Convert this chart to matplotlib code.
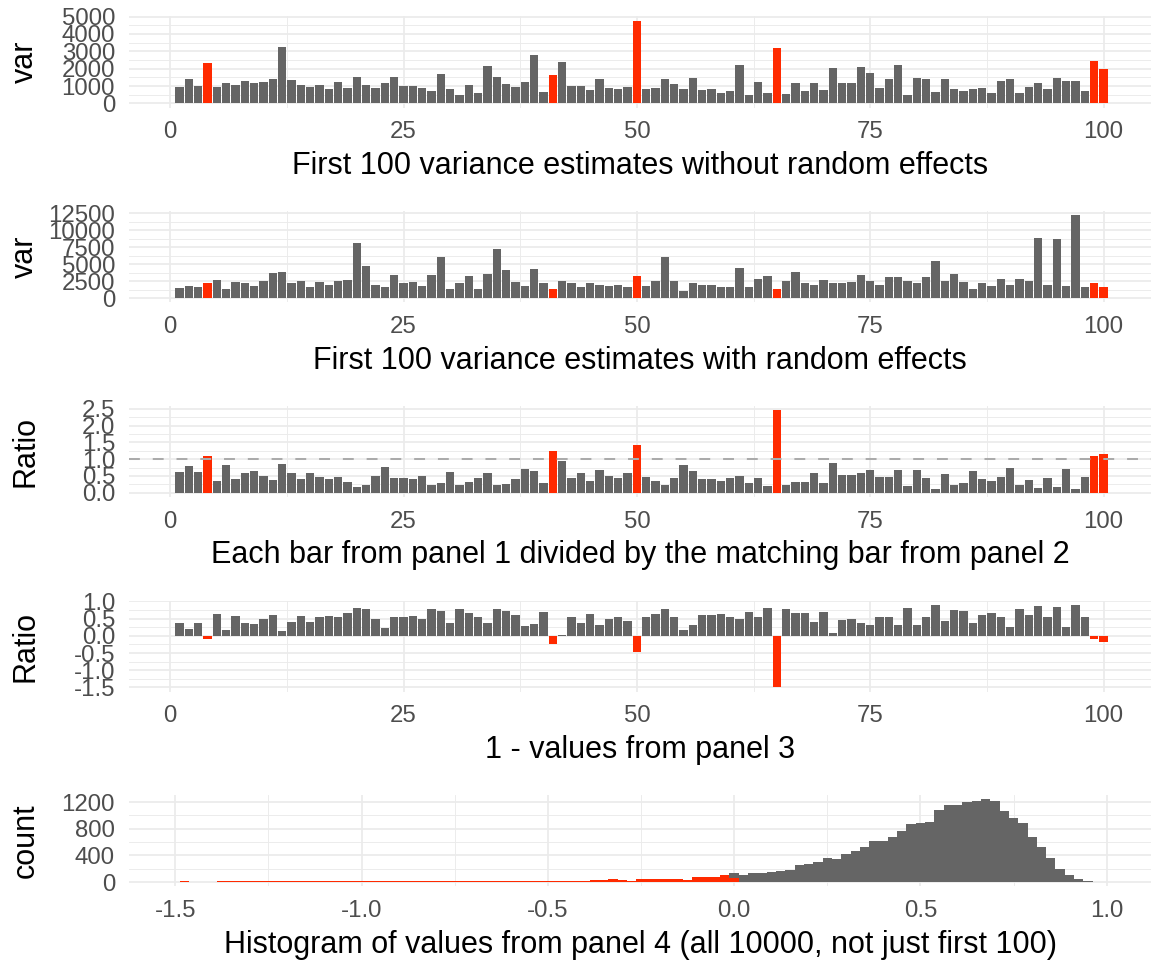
import numpy as np
import matplotlib
matplotlib.use("Agg")
import matplotlib.pyplot as plt
from matplotlib.ticker import MultipleLocator, FormatStrFormatter

plt.rcParams['font.family'] = ['Liberation Sans', 'DejaVu Sans']
plt.rcParams['axes.unicode_minus'] = False

# ---- data -------------------------------------------------------------
draw = np.arange(1, 101)

var_fixed = [
    923, 1423, 1000, 2346, 961, 1154, 1038, 1288, 1154, 1231,
    1423, 3269, 1346, 1038, 961, 1077, 846, 1231, 885, 1500,
    1077, 885, 1192, 1500, 1000, 1000, 885, 692, 1692, 846,
    500, 1038, 577, 2154, 1538, 1115, 923, 1231, 2769, 654,
    1615, 2385, 1000, 1000, 769, 1385, 885, 846, 923, 4769,
    808, 885, 1423, 1115, 846, 1462, 769, 808, 577, 731,
    2231, 462, 1231, 615, 3192, 538, 1192, 731, 1192, 769,
    2038, 1192, 1192, 2077, 1731, 885, 1423, 2192, 462, 1462,
    1385, 654, 1385, 846, 692, 808, 885, 615, 1269, 1423,
    577, 923, 1192, 846, 1462, 1269, 1269, 731, 2423, 1962,
]

var_random = [
    1476, 1771, 1574, 2165, 2657, 1378, 2362, 2165, 1771, 2460,
    3739, 3838, 2263, 2460, 1673, 2362, 1968, 2558, 2657, 8167,
    4723, 1870, 1574, 3444, 2263, 2362, 1771, 3346, 6101, 1378,
    2263, 3247, 1378, 3542, 7183, 4133, 2362, 1771, 4231, 2165,
    1279, 2460, 2263, 1673, 2165, 1968, 1771, 1968, 1673, 3247,
    1771, 2460, 6002, 2558, 984, 2165, 1870, 1968, 1673, 1673,
    4428, 1574, 2854, 3247, 1279, 2460, 3838, 2263, 1968, 2657,
    2263, 2263, 2362, 3346, 2558, 1968, 3149, 3149, 2460, 2165,
    3050, 5412, 2460, 3542, 2362, 1279, 2165, 1771, 2755, 1870,
    2755, 2460, 8856, 1968, 8758, 1771, 12202, 1574, 2165, 1673,
]

ratio = [
    0.615, 0.794, 0.615, 1.091, 0.357, 0.813, 0.417, 0.595, 0.655, 0.496,
    0.377, 0.853, 0.595, 0.417, 0.595, 0.456, 0.417, 0.456, 0.317, 0.179,
    0.238, 0.496, 0.754, 0.437, 0.437, 0.417, 0.496, 0.218, 0.278, 0.615,
    0.218, 0.317, 0.437, 0.595, 0.218, 0.258, 0.397, 0.694, 0.635, 0.298,
    1.250, 0.952, 0.437, 0.595, 0.357, 0.675, 0.496, 0.437, 0.575, 1.429,
    0.456, 0.357, 0.238, 0.437, 0.833, 0.655, 0.397, 0.397, 0.357, 0.437,
    0.496, 0.298, 0.437, 0.198, 2.460, 0.218, 0.317, 0.317, 0.575, 0.298,
    0.893, 0.536, 0.516, 0.595, 0.675, 0.456, 0.456, 0.675, 0.198, 0.675,
    0.437, 0.119, 0.556, 0.238, 0.278, 0.635, 0.397, 0.337, 0.456, 0.734,
    0.218, 0.377, 0.139, 0.437, 0.159, 0.714, 0.099, 0.456, 1.091, 1.151,
]

one_minus_ratio = [
    0.365, 0.212, 0.385, -0.096, 0.635, 0.173, 0.577, 0.385, 0.346, 0.500,
    0.615, 0.135, 0.404, 0.577, 0.404, 0.538, 0.577, 0.538, 0.673, 0.808,
    0.769, 0.500, 0.231, 0.558, 0.558, 0.577, 0.481, 0.788, 0.731, 0.385,
    0.769, 0.673, 0.558, 0.385, 0.788, 0.731, 0.596, 0.288, 0.346, 0.692,
    -0.250, 0.038, 0.558, 0.385, 0.635, 0.308, 0.500, 0.558, 0.423, -0.460,
    0.538, 0.635, 0.769, 0.558, 0.173, 0.327, 0.596, 0.596, 0.635, 0.558,
    0.500, 0.692, 0.558, 0.808, -1.500, 0.769, 0.673, 0.673, 0.404, 0.692,
    0.096, 0.462, 0.481, 0.385, 0.308, 0.538, 0.538, 0.308, 0.808, 0.327,
    0.558, 0.885, 0.442, 0.750, 0.712, 0.365, 0.596, 0.654, 0.538, 0.250,
    0.788, 0.615, 0.865, 0.558, 0.827, 0.269, 0.904, 0.538, -0.096, -0.173,
]

# histogram of all 10000 values: bin centres -1.500 ... 0.975, width 0.025
bin_width = 0.025
bin_centers = np.round(np.arange(-60, 40) * bin_width, 4)

counts_negative = [
    0, 15, 0, 0, 0, 12, 12, 12, 12, 12,
    12, 12, 12, 12, 12, 12, 12, 12, 12, 12,
    12, 12, 12, 12, 12, 12, 12, 12, 12, 12,
    12, 12, 12, 12, 12, 12, 20, 20, 20, 20,
    20, 20, 20, 20, 20, 30, 30, 40, 30, 20,
    40, 50, 40, 50, 50, 30, 80, 80, 70, 100,
    60, 0, 0, 0, 0, 0, 0, 0, 0, 0,
    0, 0, 0, 0, 0, 0, 0, 0, 0, 0,
    0, 0, 0, 0, 0, 0, 0, 0, 0, 0,
    0, 0, 0, 0, 0, 0, 0, 0, 0, 0,
]

counts_positive = [
    0, 0, 0, 0, 0, 0, 0, 0, 0, 0,
    0, 0, 0, 0, 0, 0, 0, 0, 0, 0,
    0, 0, 0, 0, 0, 0, 0, 0, 0, 0,
    0, 0, 0, 0, 0, 0, 0, 0, 0, 0,
    0, 0, 0, 0, 0, 0, 0, 0, 0, 0,
    0, 0, 0, 0, 0, 0, 0, 0, 0, 0,
    80, 110, 140, 140, 150, 170, 180, 260, 270, 300,
    360, 340, 420, 470, 520, 610, 620, 670, 770, 870,
    880, 900, 1080, 1160, 1160, 1200, 1220, 1240, 1220, 1070,
    960, 890, 670, 530, 360, 200, 110, 50, 20, 0,
]

titles = [
    "First 100 variance estimates without random effects",
    "First 100 variance estimates with random effects",
    "Each bar from panel 1 divided by the matching bar from panel 2",
    "1 - values from panel 3",
    "Histogram of values from panel 4 (all 10000, not just first 100)",
]
ylabels = ["var", "var", "Ratio", "Ratio", "count"]

# ---- style ------------------------------------------------------------
GREY = "#656565"
RED = "#FF2A00"
GRID = "#EBEBEB"
TICK_C = "#4D4D4D"
TITLE_FS = 22
TICK_FS = 17.3

W, H = 1151, 960
fig = plt.figure(figsize=(W / 100, H / 100), dpi=100)

LEFT, RIGHT = 128.8, 1151
TOPS = [16.5, 211.2, 405.9, 600.6, 795.3]
PH = 91.0


def make_axes(i):
    top = TOPS[i]
    return fig.add_axes([LEFT / W, 1 - (top + PH) / H, (RIGHT - LEFT) / W, PH / H])


def expand(lo, hi, mult=0.05):
    span = hi - lo
    return lo - mult * span, hi + mult * span


def style(ax, i):
    ax.set_axisbelow(True)
    for s in ax.spines.values():
        s.set_visible(False)
    ax.grid(which="major", color=GRID, lw=1.25)
    ax.grid(which="minor", color=GRID, lw=0.65)
    ax.tick_params(which="both", length=0)
    ax.tick_params(axis="x", pad=10.0, labelsize=TICK_FS, labelcolor=TICK_C)
    ax.tick_params(axis="y", pad=9.9, labelsize=TICK_FS, labelcolor=TICK_C)
    ax.set_xlabel(titles[i], fontsize=TITLE_FS, color="black")
    ax.xaxis.set_label_coords(640 / W, 1 - (TOPS[i] + 157.5) / H,
                              transform=fig.transFigure)
    ax.xaxis.label.set_va("baseline")
    ax.set_ylabel(ylabels[i], fontsize=TITLE_FS, color="black")
    ax.yaxis.set_label_coords(33.3 / W, 1 - (TOPS[i] + PH / 2) / H,
                              transform=fig.transFigure)
    ax.yaxis.label.set_va("baseline")


negative = np.array(one_minus_ratio) < 0
bar_colors = [RED if n else GREY for n in negative]

bar_series = [var_fixed, var_random, ratio, one_minus_ratio]
y_major = [1000, 2500, 0.5, 0.5]
y_minor = [500, 1250, 0.25, 0.25]
y_fmt = ["%d", "%d", "%.1f", "%.1f"]

for i, vals in enumerate(bar_series):
    ax = make_axes(i)
    ax.bar(draw, vals, width=0.9, color=bar_colors, linewidth=0)
    lo = min(0, min(vals))
    hi = max(0, max(vals))
    ax.set_ylim(*expand(lo, hi))
    ax.set_xlim(0.55 - 0.04995 * 100, 0.55 - 4.995 + (RIGHT - LEFT) / 9.333)
    ax.xaxis.set_major_locator(MultipleLocator(25))
    ax.xaxis.set_minor_locator(MultipleLocator(12.5))
    ax.yaxis.set_major_locator(MultipleLocator(y_major[i]))
    ax.yaxis.set_minor_locator(MultipleLocator(y_minor[i]))
    ax.yaxis.set_major_formatter(FormatStrFormatter(y_fmt[i]))
    if i == 2:
        ax.axhline(1.0, color="#ABABAB", lw=1.45, dashes=(5.4, 6.4), zorder=1.5)
    style(ax, i)

# histogram panel
ax = make_axes(4)
ax.bar(bin_centers, counts_negative, width=bin_width, color=RED, linewidth=0)
ax.bar(bin_centers, counts_positive, width=bin_width, bottom=counts_negative,
       color=GREY, linewidth=0)
totals = np.array(counts_negative) + np.array(counts_positive)
ax.set_ylim(*expand(0, totals.max()))
px_per_unit = (1106.7 - 175.3) / 2.5
ax.set_xlim(-1.5 - (175.3 - LEFT) / px_per_unit, -1.5 + (RIGHT - 175.3) / px_per_unit)
ax.xaxis.set_major_locator(MultipleLocator(0.5))
ax.xaxis.set_minor_locator(MultipleLocator(0.25))
ax.xaxis.set_major_formatter(FormatStrFormatter("%.1f"))
ax.yaxis.set_major_locator(MultipleLocator(400))
ax.yaxis.set_minor_locator(MultipleLocator(200))
style(ax, 4)

fig.savefig("out.png", dpi=100)
